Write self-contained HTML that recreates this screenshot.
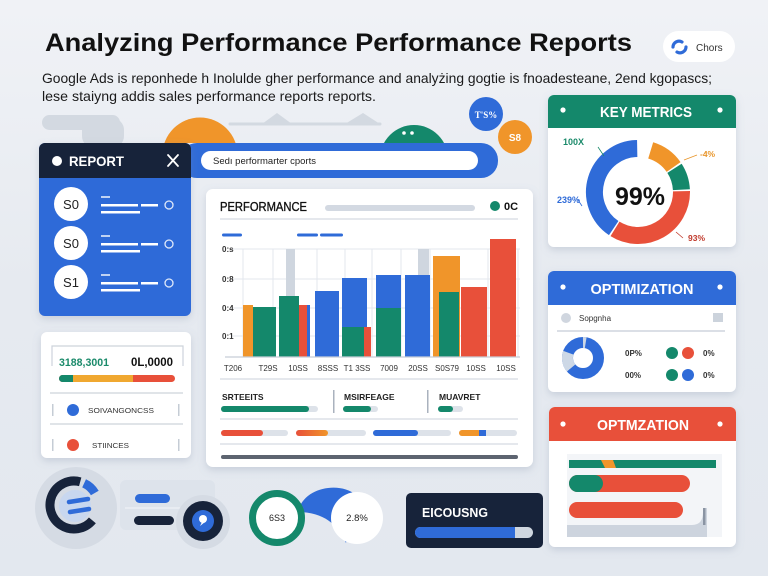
<!DOCTYPE html>
<html><head><meta charset="utf-8"><style>html,body{margin:0;padding:0;width:768px;height:576px;overflow:hidden;background:#e9edf3}svg{display:block}</style></head><body>
<svg width="768" height="576" viewBox="0 0 768 576" xmlns="http://www.w3.org/2000/svg" font-family="Liberation Sans, Arial, sans-serif">
<defs>
<linearGradient id="bg" x1="0" y1="0" x2="0" y2="1"><stop offset="0" stop-color="#f0f2f6"/><stop offset="0.5" stop-color="#e6eaf0"/><stop offset="1" stop-color="#e3e8ef"/></linearGradient>
<linearGradient id="ro" x1="0" y1="0" x2="1" y2="0"><stop offset="0" stop-color="#e8503a"/><stop offset="1" stop-color="#f0952a"/></linearGradient>
<filter id="sh" x="-20%" y="-20%" width="140%" height="150%"><feDropShadow dx="0" dy="3" stdDeviation="4" flood-color="#7d8ba3" flood-opacity="0.28"/></filter>
<clipPath id="bc"><rect x="59" y="375" width="116" height="7" rx="3.5"/></clipPath>
<clipPath id="top"><rect x="0" y="0" width="768" height="143"/></clipPath>
</defs>
<rect width="768" height="576" fill="url(#bg)"/>

<!-- title -->
<text x="45" y="51" font-size="25" font-weight="bold" fill="#111" textLength="587" lengthAdjust="spacingAndGlyphs">Analyzing Performance Performance Reports</text>
<text x="42" y="83" font-size="14" fill="#1a1a1a" textLength="670" lengthAdjust="spacingAndGlyphs">Google Ads is reponhede h Inolulde gher performance and analyżing gogtie is fnoadesteane, 2end kgopascs;</text>
<text x="42" y="101" font-size="14" fill="#1a1a1a" textLength="334" lengthAdjust="spacingAndGlyphs">lese staiyng addis sales performance reports reports.</text>

<!-- chors button -->
<rect x="663" y="31" width="72" height="31" rx="15.5" fill="#fff"/>
<path d="M673,47 a6,6 0 0 1 9,-5" stroke="#2f6bd8" stroke-width="3.2" fill="none" stroke-linecap="round"/>
<path d="M686,47 a6,6 0 0 1 -9,5" stroke="#2f6bd8" stroke-width="3.2" fill="none" stroke-linecap="round"/>
<text x="696" y="51" font-size="10" fill="#333">Chors</text>

<!-- decorative -->
<rect x="42" y="115" width="78" height="15" rx="7.5" fill="#d3d9e1"/>
<rect x="82" y="118" width="42" height="30" rx="12" fill="#d3d9e1"/>
<g clip-path="url(#top)">
<circle cx="200" cy="155" r="37.5" fill="#f0952a"/>
<circle cx="414" cy="159" r="34" fill="#14886b"/>
</g>
<line x1="230" y1="124" x2="380" y2="124" stroke="#d3d9e1" stroke-width="3" stroke-linecap="round"/>
<path d="M262,124 L277,113 L292,124 Z M345,124 L363,113 L380,124 Z" fill="#d3d9e1"/>
<circle cx="404" cy="133" r="1.8" fill="#fff"/><circle cx="412" cy="133" r="1.8" fill="#fff"/>
<circle cx="486" cy="114" r="17" fill="#2f6bd8"/>
<text x="486" y="118" font-size="9" font-weight="bold" fill="#fff" text-anchor="middle" font-family="Liberation Serif, serif">T'S%</text>
<circle cx="515" cy="137" r="17" fill="#f0952a"/>
<text x="515" y="141" font-size="10" font-weight="bold" fill="#fff" text-anchor="middle">S8</text>

<!-- blue search bar -->
<rect x="180" y="143" width="318" height="35" rx="17" fill="#2f6bd8"/>
<rect x="201" y="151" width="277" height="19" rx="9.5" fill="#fff"/>
<text x="213" y="164" font-size="9.5" fill="#222">Sedı performarter cports</text>

<!-- report panel -->
<rect x="39" y="143" width="152" height="173" rx="6" fill="#2f6bd8" filter="url(#sh)"/>
<rect x="39" y="143" width="152" height="35" rx="6" fill="#17233a"/>
<rect x="39" y="166" width="152" height="12" fill="#17233a"/>
<circle cx="57" cy="161" r="5" fill="#fff"/>
<text x="69" y="166" font-size="14" font-weight="bold" fill="#fff" textLength="55" lengthAdjust="spacingAndGlyphs">REPORT</text>
<path d="M168,155 L178,166 M178,155 L168,166" stroke="#fff" stroke-width="1.8" stroke-linecap="round"/>
<g>
<circle cx="71" cy="204" r="17" fill="#fff"/><text x="71" y="209" font-size="13" fill="#222" text-anchor="middle">S0</text>
<rect x="101" y="196" width="9" height="2" fill="#fff" opacity="0.7"/>
<rect x="101" y="204" width="37" height="2.5" fill="#fff"/><rect x="141" y="204" width="17" height="2.5" fill="#fff"/>
<rect x="101" y="211" width="39" height="2.5" fill="#fff"/>
<circle cx="169" cy="205" r="4" fill="none" stroke="#fff" stroke-width="1.3" opacity="0.85"/>
</g>
<g>
<circle cx="71" cy="243" r="17" fill="#fff"/><text x="71" y="248" font-size="13" fill="#222" text-anchor="middle">S0</text>
<rect x="101" y="235" width="9" height="2" fill="#fff" opacity="0.7"/>
<rect x="101" y="243" width="37" height="2.5" fill="#fff"/><rect x="141" y="243" width="17" height="2.5" fill="#fff"/>
<rect x="101" y="250" width="39" height="2.5" fill="#fff"/>
<circle cx="169" cy="244" r="4" fill="none" stroke="#fff" stroke-width="1.3" opacity="0.85"/>
</g>
<g>
<circle cx="71" cy="282" r="17" fill="#fff"/><text x="71" y="287" font-size="13" fill="#222" text-anchor="middle">S1</text>
<rect x="101" y="274" width="9" height="2" fill="#fff" opacity="0.7"/>
<rect x="101" y="282" width="37" height="2.5" fill="#fff"/><rect x="141" y="282" width="17" height="2.5" fill="#fff"/>
<rect x="101" y="289" width="39" height="2.5" fill="#fff"/>
<circle cx="169" cy="283" r="4" fill="none" stroke="#fff" stroke-width="1.3" opacity="0.85"/>
</g>

<!-- chart card -->
<rect x="206" y="189" width="327" height="278" rx="7" fill="#fff" filter="url(#sh)"/>
<text x="220" y="211" font-size="12.5" fill="#111" stroke="#111" stroke-width="0.35" textLength="87" lengthAdjust="spacingAndGlyphs">PERFORMANCE</text>
<rect x="325" y="205" width="150" height="6" rx="3" fill="#d3d9e2"/>
<circle cx="495" cy="206" r="5" fill="#14886b"/>
<text x="504" y="210" font-size="11" font-weight="bold" fill="#111">0C</text>
<line x1="220" y1="219" x2="518" y2="219" stroke="#d5dae2" stroke-width="1.2"/>
<rect x="222" y="233.5" width="20" height="3" rx="1.5" fill="#2f6bd8"/>
<rect x="297" y="233.5" width="21" height="3" rx="1.5" fill="#2f6bd8"/>
<rect x="320" y="233.5" width="23" height="3" rx="1.5" fill="#2f6bd8"/>
<g stroke="#e3e7ed" stroke-width="1">
<line x1="232" y1="249" x2="520" y2="249"/><line x1="232" y1="279" x2="520" y2="279"/>
<line x1="232" y1="308" x2="520" y2="308"/><line x1="232" y1="336" x2="520" y2="336"/>
<line x1="243" y1="249" x2="243" y2="357"/><line x1="273" y1="249" x2="273" y2="357"/>
<line x1="317" y1="249" x2="317" y2="357"/><line x1="345" y1="249" x2="345" y2="357"/>
<line x1="372" y1="249" x2="372" y2="357"/><line x1="401" y1="249" x2="401" y2="357"/>
<line x1="430" y1="249" x2="430" y2="357"/><line x1="488" y1="249" x2="488" y2="357"/>
<line x1="518" y1="249" x2="518" y2="357"/>
</g>
<g font-size="8" fill="#333" font-weight="bold">
<text x="222" y="252">0:s</text><text x="222" y="282">0:8</text><text x="222" y="311">0:4</text><text x="222" y="339">0:1</text>
</g>
<!-- bars -->
<rect x="243" y="305" width="10" height="52" fill="#f0952a"/>
<rect x="253" y="307" width="23" height="50" fill="#14886b"/>
<rect x="286" y="249" width="9" height="47" fill="#cfd6df"/>
<rect x="279" y="296" width="20" height="61" fill="#14886b"/>
<rect x="303" y="305" width="7" height="52" fill="#2f6bd8"/>
<rect x="299" y="305" width="8" height="52" fill="#e8503a"/>
<rect x="315" y="291" width="24" height="66" fill="#2f6bd8"/>
<rect x="342" y="278" width="25" height="79" fill="#2f6bd8"/>
<rect x="342" y="327" width="22" height="30" fill="#14886b"/>
<rect x="364" y="327" width="7" height="30" fill="#e8503a"/>
<rect x="376" y="275" width="25" height="82" fill="#2f6bd8"/>
<rect x="376" y="308" width="25" height="49" fill="#14886b"/>
<rect x="418" y="249" width="11" height="26" fill="#cfd6df"/>
<rect x="405" y="275" width="25" height="82" fill="#2f6bd8"/>
<rect x="433" y="256" width="27" height="101" fill="#f0952a"/>
<rect x="439" y="292" width="20" height="65" fill="#14886b"/>
<rect x="461" y="287" width="26" height="70" fill="#e8503a"/>
<rect x="490" y="239" width="26" height="118" fill="#e8503a"/>
<line x1="225" y1="357" x2="520" y2="357" stroke="#c8ced8" stroke-width="1.2"/>
<g font-size="8" fill="#333" text-anchor="middle">
<text x="233" y="371">T206</text><text x="268" y="371">T29S</text><text x="298" y="371">10SS</text>
<text x="328" y="371">8SSS</text><text x="357" y="371">T1 3SS</text><text x="389" y="371">7009</text>
<text x="418" y="371">20SS</text><text x="447" y="371">S0S79</text><text x="476" y="371">10SS</text>
<text x="506" y="371">10SS</text>
</g>
<line x1="220" y1="379" x2="518" y2="379" stroke="#d5dae2" stroke-width="1.2"/>
<g font-size="8.5" font-weight="bold" fill="#222">
<text x="222" y="400">SRTEEITS</text><text x="344" y="400">MSIRFEAGE</text><text x="439" y="400">MUAVRET</text>
</g>
<rect x="333" y="390" width="1.5" height="23" fill="#aab2be"/>
<rect x="427" y="390" width="1.5" height="23" fill="#aab2be"/>
<rect x="221" y="406" width="97" height="6" rx="3" fill="#dde2e9"/><rect x="221" y="406" width="88" height="6" rx="3" fill="#14886b"/>
<rect x="343" y="406" width="35" height="6" rx="3" fill="#dde2e9"/><rect x="343" y="406" width="28" height="6" rx="3" fill="#14886b"/>
<rect x="438" y="406" width="25" height="6" rx="3" fill="#dde2e9"/><rect x="438" y="406" width="15" height="6" rx="3" fill="#14886b"/>
<line x1="220" y1="419" x2="518" y2="419" stroke="#d5dae2" stroke-width="1.2"/>
<rect x="221" y="430" width="67" height="6" rx="3" fill="#dde2e9"/><rect x="221" y="430" width="42" height="6" rx="3" fill="#e8503a"/>
<rect x="296" y="430" width="70" height="6" rx="3" fill="#dde2e9"/><rect x="296" y="430" width="32" height="6" rx="3" fill="url(#ro)"/>
<rect x="373" y="430" width="78" height="6" rx="3" fill="#dde2e9"/><rect x="373" y="430" width="45" height="6" rx="3" fill="#2f6bd8"/>
<rect x="459" y="430" width="58" height="6" rx="3" fill="#dde2e9"/><rect x="459" y="430" width="22" height="6" rx="3" fill="#f0952a"/><rect x="479" y="430" width="7" height="6" fill="#2f6bd8"/>
<line x1="220" y1="444" x2="518" y2="444" stroke="#d5dae2" stroke-width="1.2"/>
<rect x="221" y="455" width="297" height="4" rx="2" fill="#5d6470"/>

<!-- left bottom card -->
<rect x="41" y="332" width="150" height="126" rx="6" fill="#fff" filter="url(#sh)"/>
<path d="M52,366 V346 H183 V366" fill="none" stroke="#cdd3db" stroke-width="1.2"/>
<text x="59" y="366" font-size="11" font-weight="bold" fill="#1a8a6a" textLength="50" lengthAdjust="spacingAndGlyphs">3188,3001</text>
<text x="131" y="366" font-size="12" font-weight="bold" fill="#111" textLength="42" lengthAdjust="spacingAndGlyphs">0L,0000</text>
<g clip-path="url(#bc)">
<rect x="59" y="375" width="116" height="7" fill="#e8503a"/>
<rect x="73" y="375" width="60" height="7" fill="#f0a830"/>
<rect x="59" y="375" width="14" height="7" fill="#14886b"/>
</g>
<line x1="50" y1="393" x2="183" y2="393" stroke="#cdd3db" stroke-width="1.2"/>
<rect x="52" y="404" width="1.5" height="12" fill="#c5ccd5"/><rect x="178" y="404" width="1.5" height="12" fill="#c5ccd5"/>
<circle cx="73" cy="410" r="6" fill="#2f6bd8"/>
<text x="88" y="413" font-size="7.5" fill="#333" textLength="66" lengthAdjust="spacingAndGlyphs">SOIVANGONCSS</text>
<line x1="50" y1="424" x2="183" y2="424" stroke="#cdd3db" stroke-width="1.2"/>
<rect x="52" y="439" width="1.5" height="12" fill="#c5ccd5"/><rect x="178" y="439" width="1.5" height="12" fill="#c5ccd5"/>
<circle cx="73" cy="445" r="6" fill="#e8503a"/>
<text x="92" y="448" font-size="7.5" fill="#333" textLength="37" lengthAdjust="spacingAndGlyphs">STIINCES</text>

<!-- key metrics -->
<rect x="548" y="95" width="188" height="152" rx="6" fill="#fff" filter="url(#sh)"/>
<rect x="548" y="95" width="188" height="33" rx="6" fill="#14886b"/>
<rect x="548" y="115" width="188" height="13" fill="#14886b"/>
<circle cx="563" cy="110" r="2.6" fill="#fff"/><circle cx="720" cy="110" r="2.6" fill="#fff"/>
<text x="646" y="117" font-size="15" font-weight="bold" fill="#fff" text-anchor="middle" textLength="92" lengthAdjust="spacingAndGlyphs">KEY METRICS</text>
<g fill="none" stroke-width="17">
<path d="M613.7,228.1 A43.5,43.5 0 0 1 637.2,148.5" stroke="#2f6bd8"/>
<path d="M650.7,150.4 A43.5,43.5 0 0 1 673.6,167.0" stroke="#f0952a"/>
<path d="M674.5,168.3 A43.5,43.5 0 0 1 681.4,189.7" stroke="#14886b"/>
<path d="M681.5,191.2 A43.5,43.5 0 0 1 615.0,228.9" stroke="#e8503a"/>
</g>
<text x="640" y="205" font-size="25" font-weight="bold" fill="#111" text-anchor="middle">99%</text>
<text x="563" y="145" font-size="9" font-weight="bold" fill="#1a8a6a">100X</text>
<line x1="598" y1="147" x2="604" y2="156" stroke="#1a8a6a" stroke-width="0.8"/>
<text x="700" y="157" font-size="8.5" fill="#e8952a" font-weight="bold">-4%</text>
<line x1="684" y1="160" x2="697" y2="155" stroke="#e8952a" stroke-width="0.8"/>
<text x="557" y="203" font-size="9" font-weight="bold" fill="#2f6bd8">239%</text>
<line x1="578" y1="200" x2="582" y2="206" stroke="#2f6bd8" stroke-width="0.8"/>
<text x="688" y="241" font-size="8.5" font-weight="bold" fill="#c0392b">93%</text>
<line x1="676" y1="232" x2="683" y2="238" stroke="#c0392b" stroke-width="0.8"/>

<!-- optimization 1 -->
<rect x="548" y="271" width="188" height="121" rx="6" fill="#fff" filter="url(#sh)"/>
<rect x="548" y="271" width="188" height="34" rx="6" fill="#2f6bd8"/>
<rect x="548" y="292" width="188" height="13" fill="#2f6bd8"/>
<circle cx="563" cy="287" r="2.6" fill="#fff"/><circle cx="720" cy="287" r="2.6" fill="#fff"/>
<text x="642" y="294" font-size="15" font-weight="bold" fill="#fff" text-anchor="middle" textLength="103" lengthAdjust="spacingAndGlyphs">OPTIMIZATION</text>
<circle cx="566" cy="318" r="5" fill="#d0d6df"/>
<text x="579" y="321" font-size="8" fill="#333">Sopgnha</text>
<rect x="713" y="313" width="10" height="9" fill="#ccd3dc"/>
<line x1="557" y1="331" x2="725" y2="331" stroke="#c5ccd6" stroke-width="1.2"/>
<circle cx="583" cy="358" r="15.5" fill="none" stroke="#2f6bd8" stroke-width="11"/>
<path d="M571.1,368.0 A15.5,15.5 0 0 1 568.4,352.7" fill="none" stroke="#cdd8e6" stroke-width="11"/>
<path d="M583,342.5 A15.5,15.5 0 0 1 585.7,342.7" fill="none" stroke="#cdd8e6" stroke-width="11"/>
<g font-size="8" font-weight="bold" fill="#333">
<text x="625" y="356">0P%</text><text x="625" y="378">00%</text>
<text x="703" y="356">0%</text><text x="703" y="378">0%</text>
</g>
<circle cx="672" cy="353" r="6" fill="#14886b"/><circle cx="688" cy="353" r="6" fill="#e8503a"/>
<circle cx="672" cy="375" r="6" fill="#14886b"/><circle cx="688" cy="375" r="6" fill="#2f6bd8"/>

<!-- optimization 2 -->
<rect x="549" y="407" width="187" height="140" rx="6" fill="#fff" filter="url(#sh)"/>
<rect x="549" y="407" width="187" height="34" rx="6" fill="#e8503a"/>
<rect x="549" y="428" width="187" height="13" fill="#e8503a"/>
<circle cx="563" cy="424" r="2.6" fill="#fff"/><circle cx="720" cy="424" r="2.6" fill="#fff"/>
<text x="643" y="430" font-size="15" font-weight="bold" fill="#fff" text-anchor="middle" textLength="92" lengthAdjust="spacingAndGlyphs">OPTMZATION</text>
<rect x="567" y="454" width="155" height="83" fill="#f3f5f8"/>
<rect x="569" y="460" width="147" height="8" fill="#14886b"/>
<path d="M601,460 H613 L616,468 H605 Z" fill="#f0952a"/>
<rect x="569" y="475" width="121" height="17" rx="8.5" fill="#e8503a"/>
<rect x="569" y="475" width="34" height="17" rx="8.5" fill="#14886b"/>
<rect x="569" y="502" width="114" height="16" rx="8" fill="#e8503a"/>
<path d="M567,525 H692 Q703,525 703,512 V508 H707 V537 H567 Z" fill="#cdd4de"/>
<rect x="703" y="508" width="2.5" height="17" fill="#8a94a3"/>

<!-- bottom widgets -->
<circle cx="76" cy="508" r="41" fill="#d5dbe4"/>
<path d="M92.4,520.4 A24,24 0 1 1 80.2,481.8" fill="none" stroke="#17233a" stroke-width="9"/>
<path d="M84.1,483.3 A24,24 0 0 1 94.8,493" fill="none" stroke="#2f6bd8" stroke-width="9"/>
<circle cx="75" cy="506" r="16" fill="#c8d7ef"/>
<line x1="69" y1="502" x2="88" y2="499" stroke="#2f6bd8" stroke-width="4.5" stroke-linecap="round"/>
<line x1="70" y1="512" x2="89" y2="509" stroke="#2f6bd8" stroke-width="4.5" stroke-linecap="round"/>

<rect x="120" y="480" width="95" height="50" rx="6" fill="#dde3eb"/>
<line x1="125" y1="508" x2="200" y2="508" stroke="#eef1f5" stroke-width="1.2"/>
<rect x="135" y="494" width="35" height="9" rx="4.5" fill="#2f6bd8"/>
<rect x="134" y="516" width="40" height="9" rx="4.5" fill="#17233a"/>
<circle cx="203" cy="522" r="27" fill="#d5dbe4"/>
<circle cx="203" cy="521" r="20" fill="#17233a"/>
<circle cx="203" cy="521" r="11" fill="#2f6bd8"/>
<circle cx="203" cy="519" r="4" fill="#fff"/>
<path d="M202,522 L200,526 L205,522 Z" fill="#fff"/>

<path d="M298,512 C303,487 340,481 356,495 L346,543 C338,525 324,512 298,512 Z" fill="#2f6bd8"/>
<circle cx="277" cy="518" r="24.5" fill="#fff" stroke="#14886b" stroke-width="7"/>
<text x="277" y="521" font-size="9" fill="#222" text-anchor="middle">6S3</text>
<circle cx="357" cy="518" r="26" fill="#fff"/>
<text x="357" y="521" font-size="9.5" fill="#222" text-anchor="middle">2.8%</text>

<rect x="406" y="493" width="137" height="55" rx="5" fill="#17233a"/>
<text x="422" y="517" font-size="12.5" font-weight="bold" fill="#fff" textLength="66" lengthAdjust="spacingAndGlyphs">EICOUSNG</text>
<rect x="415" y="527" width="118" height="11" rx="5.5" fill="#cfd6df"/>
<rect x="415" y="527" width="100" height="11" rx="5.5" fill="#2f6bd8"/>
<rect x="508" y="527" width="7" height="11" fill="#2f6bd8"/>
</svg>
</body></html>
